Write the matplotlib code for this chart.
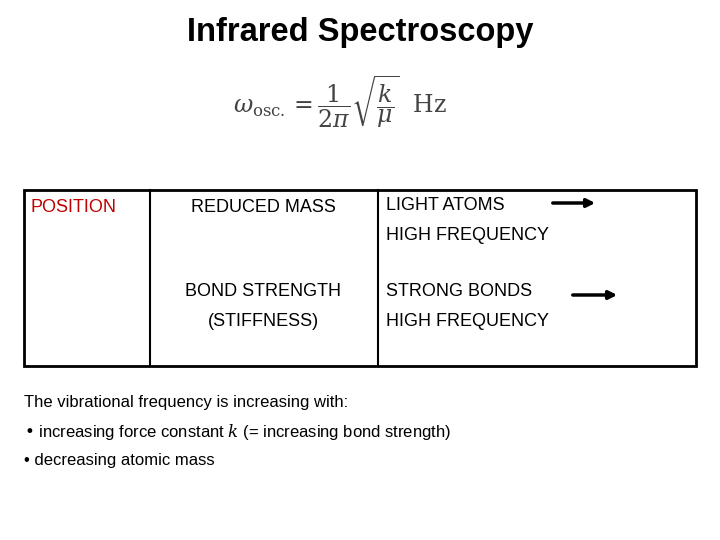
import matplotlib
matplotlib.use('Agg')
import matplotlib.pyplot as plt
from matplotlib.patches import Rectangle

plt.rcParams['font.family'] = ['Liberation Sans', 'DejaVu Sans']
plt.rcParams['mathtext.fontset'] = 'dejavuserif'

title = "Infrared Spectroscopy"
formula = r'$\omega_{\mathrm{osc.}} = \dfrac{1}{2\pi}\sqrt{\dfrac{k}{\mu}}\ \ \mathrm{Hz}$'
col_left = ["POSITION"]
col_mid = ["REDUCED MASS", "BOND STRENGTH\n(STIFFNESS)"]
col_right = ["LIGHT ATOMS\nHIGH FREQUENCY", "STRONG BONDS\nHIGH FREQUENCY"]
notes = ["The vibrational frequency is increasing with:",
         r"• increasing force constant $k$ (= increasing bond strength)",
         "• decreasing atomic mass"]

fig = plt.figure(figsize=(7.2, 5.4), dpi=100)
ax = fig.add_axes([0, 0, 1, 1])
ax.set_xlim(0, 720)
ax.set_ylim(540, 0)
ax.axis('off')

ax.text(360, 32, title, ha='center', va='center', fontsize=23.5, fontweight='bold')
ax.text(340, 102, formula, ha='center', va='center', fontsize=17, color='#444444')

# table frame
ax.add_patch(Rectangle((24, 190), 672, 176, fill=False, lw=2, ec='black'))
ax.plot([150, 150], [190, 366], color='black', lw=1.5)
ax.plot([378, 378], [190, 366], color='black', lw=1.5)

fs = 13
ax.text(31, 207, col_left[0], ha='left', va='center', fontsize=fs, color='#C00000')
ax.text(263, 207, col_mid[0], ha='center', va='center', fontsize=fs)
ax.text(263, 307, col_mid[1], ha='center', va='center', fontsize=fs, linespacing=2.0)
ax.text(386, 221, col_right[0], ha='left', va='center', fontsize=fs, linespacing=2.0)
ax.text(386, 307, col_right[1], ha='left', va='center', fontsize=fs, linespacing=2.0)

ax.annotate('', xy=(598, 203), xytext=(550, 203),
            arrowprops=dict(arrowstyle='-|>', color='black', lw=2.5, mutation_scale=12))
ax.annotate('', xy=(620, 295), xytext=(570, 295),
            arrowprops=dict(arrowstyle='-|>', color='black', lw=2.5, mutation_scale=12))

for s, y in zip(notes, [402, 432, 460]):
    ax.text(24, y, s, ha='left', va='center', fontsize=12)

fig.savefig('out.png', dpi=100)
